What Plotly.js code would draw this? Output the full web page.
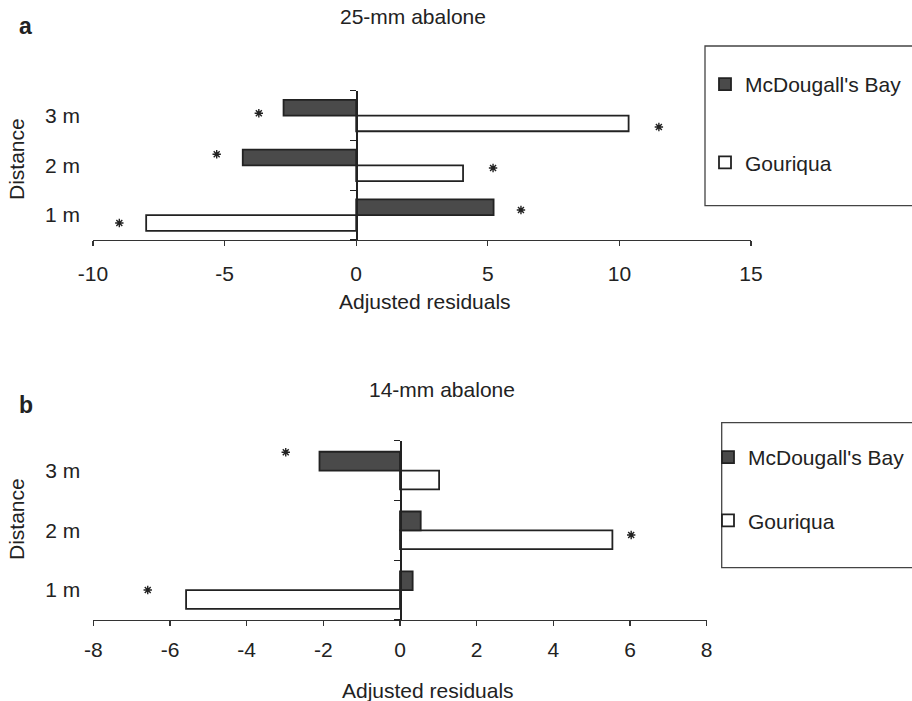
<!DOCTYPE html>
<html>
<head>
<meta charset="utf-8">
<script src="https://cdn.plot.ly/plotly-3.0.1.min.js"></script>
<style>html,body{margin:0;padding:0;background:#fff;}#chart{width:912px;height:701px;}</style>
</head>
<body>
<div id="chart"></div>
<script>
// ---- data ----
const categories = ['1 m', '2 m', '3 m'];
const seriesNames = ["McDougall's Bay", 'Gouriqua'];
// Panel a: 25-mm abalone
const mcdA = [5.22, -4.31, -2.76];
const gouA = [-7.98, 4.06, 10.35];
// Panel b: 14-mm abalone
const mcdB = [0.33, 0.54, -2.1];
const gouB = [-5.58, 5.54, 1.02];
// significance asterisks (x in residual units, y in category-index units)
const starAX = [6.26, -5.3, -3.7, -9.0, 5.2, 11.5];
const starAY = [0.104, 1.223, 2.046, -0.157, 0.948, 1.771];
const starBX = [-2.98, 6.03, -6.58];
const starBY = [2.306, 0.923, 0.003];
const ticksA = [-10, -5, 0, 5, 10, 15];
const ticksB = [-8, -6, -4, -2, 0, 2, 4, 6, 8];
const boundaries = [-0.5, 0.5, 1.5, 2.5];

const FONT = 'Liberation Sans, Arial, Helvetica, sans-serif';
const INK = '#222222';
const DARK = '#4a4a4a';

function bar(vals, name, xa, ya, fill, leg, rank) {
  return {
    type: 'bar', orientation: 'h', x: vals, y: categories, name: name,
    xaxis: xa, yaxis: ya, legend: leg, legendgroup: leg + name, legendrank: rank,
    marker: {color: fill, line: {color: INK, width: 1.8}},
    hoverinfo: 'skip'
  };
}
function stars(xs, ys, xa, ya) {
  return {
    type: 'scatter', mode: 'markers', x: xs, y: ys, xaxis: xa, yaxis: ya,
    showlegend: false, hoverinfo: 'skip',
    marker: {symbol: 'asterisk-open', size: 7, color: INK, line: {color: INK, width: 1.4}}
  };
}

const data = [
  bar(gouA, seriesNames[1], 'x', 'y', '#ffffff', 'legend', 2),
  bar(mcdA, seriesNames[0], 'x', 'y', DARK, 'legend', 1),
  stars(starAX, starAY, 'x', 'y3'),
  bar(gouB, seriesNames[1], 'x2', 'y2', '#ffffff', 'legend2', 2),
  bar(mcdB, seriesNames[0], 'x2', 'y2', DARK, 'legend2', 1),
  stars(starBX, starBY, 'x2', 'y4')
];

const W = 912, H = 701;
const px = v => v / W;
const py = v => 1 - v / H;

function xax(domain, range, tv, anchor, standoff) {
  return {
    domain: domain, anchor: anchor, range: range, tickvals: tv, ticktext: tv.map(String),
    ticks: 'outside', ticklen: 5, tickwidth: 1.2, tickcolor: '#333',
    showline: true, linecolor: '#333', linewidth: 1.3,
    showgrid: false, zeroline: false, automargin: false,
    tickfont: {size: 21, color: INK, family: FONT}, ticklabelstandoff: standoff
  };
}
function ycat(domain, anchor) {
  return {
    domain: domain, anchor: anchor, type: 'category', categoryarray: categories,
    categoryorder: 'array', range: [-0.5, 2.5], showline: false, ticks: '',
    showgrid: false, zeroline: false, automargin: false,
    tickfont: {size: 21, color: INK, family: FONT}, ticklabelstandoff: 12
  };
}
function yzero(over, pos) {
  return {
    overlaying: over, anchor: 'free', position: pos, side: 'left',
    range: [-0.5, 2.5], tickvals: boundaries, ticks: 'outside', ticklen: 6,
    tickwidth: 1.3, tickcolor: INK, showline: true, linecolor: INK, linewidth: 1.8,
    showticklabels: false, showgrid: false, zeroline: false, automargin: false
  };
}

const ann = (text, x, y, opts) => Object.assign({
  text: text, x: x, y: y, xref: 'paper', yref: 'paper', showarrow: false,
  xanchor: 'center', yanchor: 'middle', font: {size: 21, color: INK, family: FONT}
}, opts || {});

const layout = {
  width: W, height: H,
  margin: {l: 0, r: 0, t: 0, b: 0, pad: 0},
  paper_bgcolor: '#ffffff', plot_bgcolor: 'rgba(0,0,0,0)',
  font: {family: FONT, color: INK, size: 21},
  barmode: 'group', bargap: 0.37, bargroupgap: 0,
  xaxis: xax([px(93), px(751)], [-10, 15], ticksA, 'y', 9),
  yaxis: ycat([py(240), py(90.7)], 'x'),
  yaxis3: yzero('y', px(356)),
  xaxis2: xax([px(93.3), px(706.7)], [-8, 8], ticksB, 'y2', 5),
  yaxis2: ycat([py(620), py(440.7)], 'x2'),
  yaxis4: yzero('y2', px(400)),
  legend: {
    x: px(705), xanchor: 'left', y: py(64), yanchor: 'top',
    traceorder: 'grouped', tracegroupgap: 48, bgcolor: 'rgba(0,0,0,0)', borderwidth: 0,
    font: {size: 21, color: INK, family: FONT}
  },
  legend2: {
    x: px(708), xanchor: 'left', y: py(437), yanchor: 'top',
    traceorder: 'grouped', tracegroupgap: 33, bgcolor: 'rgba(0,0,0,0)', borderwidth: 0,
    font: {size: 21, color: INK, family: FONT}
  },
  shapes: [
    {type: 'rect', xref: 'paper', yref: 'paper', x0: px(705), x1: 1.05, y0: py(205.7), y1: py(46),
     line: {color: '#444', width: 1.3}, fillcolor: 'rgba(0,0,0,0)'},
    {type: 'rect', xref: 'paper', yref: 'paper', x0: px(721.7), x1: 1.05, y0: py(567.7), y1: py(422.7),
     line: {color: '#444', width: 1.3}, fillcolor: 'rgba(0,0,0,0)'}
  ],
  annotations: [
    ann('25-mm abalone', px(413), py(16)),
    ann('14-mm abalone', px(441.7), py(389)),
    ann('<b>a</b>', px(25.5), py(26), {font: {size: 23, color: INK, family: FONT}}),
    ann('<b>b</b>', px(25.5), py(405), {font: {size: 23, color: INK, family: FONT}}),
    ann('Adjusted residuals', px(425), py(301)),
    ann('Adjusted residuals', px(428), py(690)),
    ann('Distance', px(16), py(159), {textangle: -90}),
    ann('Distance', px(16), py(519), {textangle: -90})
  ]
};

Plotly.newPlot('chart', data, layout, {staticPlot: true, displayModeBar: false});
</script>
</body>
</html>
